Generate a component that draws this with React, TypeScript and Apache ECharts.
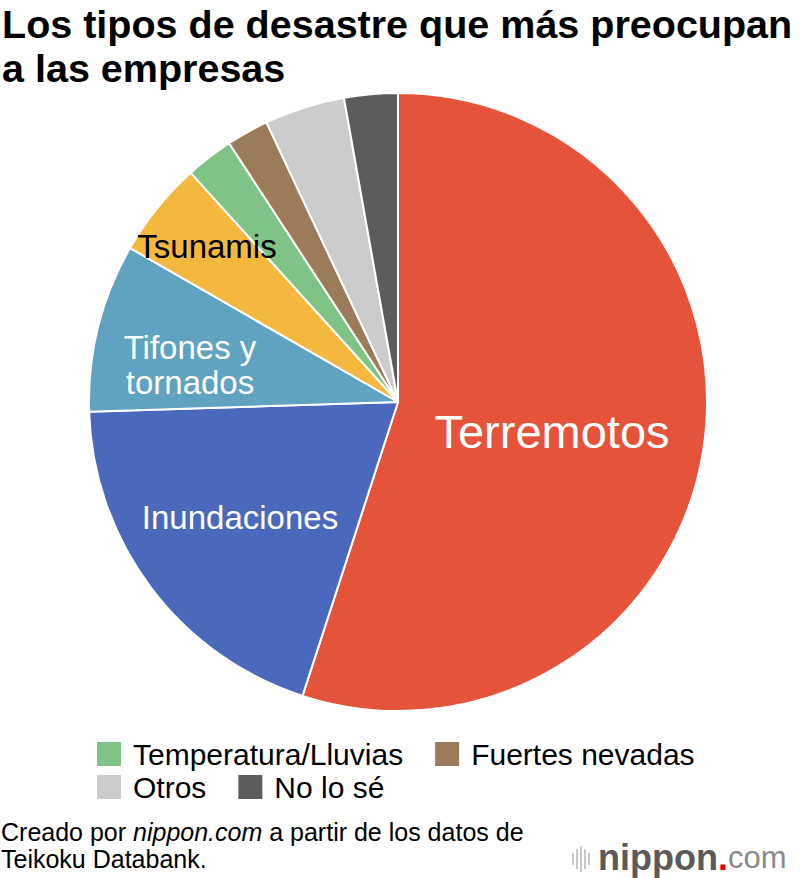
import React, { useEffect, useRef } from "react";
import * as echarts from "echarts";

const TITLE = "Los tipos de desastre que más preocupan\na las empresas";
const CATEGORIES = [
  "Terremotos",
  "Inundaciones",
  "Tifones y tornados",
  "Tsunamis",
  "Temperatura/Lluvias",
  "Fuertes nevadas",
  "Otros",
  "No lo sé",
];
const VALUES = [55.0, 19.5, 8.8, 5.0, 2.5, 2.2, 4.2, 2.8];
const COLORS = ["#E4533A", "#4A69BC", "#5FA3C0", "#F5B83E", "#7FC386", "#9C7B5B", "#CCCCCC", "#5C5C5C"];
const SLICE_LABELS = ["Terremotos", "Inundaciones", "Tifones y\ntornados", "Tsunamis", "", "", "", ""];
const LEGEND_ROW1 = ["Temperatura/Lluvias", "Fuertes nevadas"];
const LEGEND_ROW2 = ["Otros", "No lo sé"];

// label placement (layout only)
const LABEL_POS: Record<number, [number, number]> = {
  0: [552, 431],
  1: [240, 517],
  2: [190, 365],
  3: [207, 246],
};
const LABEL_STYLE: Record<number, any> = {
  0: { fontSize: 47, color: "#fff" },
  1: { fontSize: 33, color: "#fff" },
  2: { fontSize: 33, color: "#fff", lineHeight: 35 },
  3: { fontSize: 33, color: "#000" },
};

const FONT = "'Liberation Sans', Arial, Helvetica, sans-serif";

export default function App() {
  const ref = useRef<HTMLDivElement>(null);
  useEffect(() => {
    const chart = echarts.init(ref.current!, null, { renderer: "svg" });
    const data = CATEGORIES.map((name, i) => ({
      name,
      value: VALUES[i],
      itemStyle: { color: COLORS[i] },
      label: SLICE_LABELS[i]
        ? { show: true, formatter: SLICE_LABELS[i], ...LABEL_STYLE[i] }
        : { show: false },
    }));
    const legendCommon = {
      left: 95,
      orient: "horizontal",
      icon: "rect",
      itemWidth: 26,
      itemHeight: 26,
      itemGap: 30,
      padding: 0,
      textStyle: { fontSize: 30, color: "#000", fontFamily: FONT, padding: [0, 0, 0, 6] },
      selectedMode: false,
    };
    chart.setOption({
      animation: false,
      backgroundColor: "#fff",
      textStyle: { fontFamily: FONT },
      title: {
        text: TITLE,
        left: 2,
        top: 2,
        padding: 0,
        textStyle: { fontSize: 39.5, fontWeight: "bold", color: "#000", lineHeight: 44, fontFamily: FONT },
      },
      legend: [
        { ...legendCommon, top: 739, data: LEGEND_ROW1 },
        { ...legendCommon, top: 772, data: LEGEND_ROW2 },
      ],
      series: [
        {
          type: "pie",
          center: [398, 402],
          radius: [0, 309],
          startAngle: 90,
          clockwise: true,
          itemStyle: { borderColor: "#fff", borderWidth: 2 },
          label: { position: "inside", align: "center", verticalAlign: "middle", fontFamily: FONT },
          labelLine: { show: false },
          emphasis: { disabled: true },
          labelLayout: (params: any) => {
            const p = LABEL_POS[params.dataIndex];
            return p ? { x: p[0], y: p[1], align: "center", verticalAlign: "middle" } : {};
          },
          data,
        },
      ],
      graphic: [
        {
          type: "text",
          left: 1,
          top: 818,
          style: {
            text: "Creado por {i|nippon.com} a partir de los datos de\nTeikoku Databank.",
            fontSize: 25,
            lineHeight: 27,
            fill: "#000",
            fontFamily: FONT,
            rich: { i: { fontStyle: "italic", fontSize: 25, lineHeight: 27, fontFamily: FONT } },
          },
        },
        {
          type: "group",
          left: 572,
          top: 839,
          children: [
            { type: "rect", shape: { x: 0, y: 9, width: 2, height: 12 }, style: { fill: "#c8c8c8" } },
            { type: "rect", shape: { x: 4, y: 5, width: 2, height: 20 }, style: { fill: "#c8c8c8" } },
            { type: "rect", shape: { x: 8, y: 2, width: 2, height: 26 }, style: { fill: "#c8c8c8" } },
            { type: "rect", shape: { x: 12, y: 5, width: 2, height: 20 }, style: { fill: "#c8c8c8" } },
            { type: "rect", shape: { x: 16, y: 9, width: 2, height: 12 }, style: { fill: "#c8c8c8" } },
            {
              type: "text",
              x: 26,
              y: -3,
              style: {
                text: "{n|nippon}{d|.}{c|com}",
                rich: {
                  n: { fontSize: 36, lineHeight: 32, fontWeight: "bold", fill: "#5a5a5a", fontFamily: FONT },
                  d: { fontSize: 36, lineHeight: 32, fontWeight: "bold", fill: "#e60012", fontFamily: FONT },
                  c: { fontSize: 31, lineHeight: 32, fill: "#8a8a8a", fontFamily: FONT },
                },
              },
            },
          ],
        },
      ],
    });
    return () => chart.dispose();
  }, []);
  return (
    <div
      ref={ref}
      style={{ position: "absolute", left: 0, top: 0, width: 800, height: 878 }}
    />
  );
}
